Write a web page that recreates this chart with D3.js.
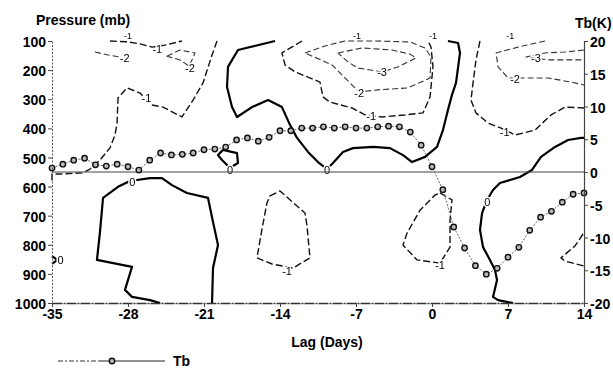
<!DOCTYPE html>
<html lang="en">
<head>
<meta charset="utf-8">
<title>Pressure vs lag with Tb</title>
<script src="https://d3js.org/d3.v7.min.js"></script>
<style>
  body { margin: 0; background: #fff; }
  svg { font-family: "Liberation Sans", Arial, sans-serif; }
  .axis text { font-size: 14px; font-weight: bold; fill: #000; }
  .title { font-size: 14px; font-weight: bold; }
  .clabel { font-size: 11px; fill: #000; }
  .halo { font-size: 11px; fill: #fff; stroke: #fff; stroke-width: 3px; }
  .mono { filter: grayscale(100%); }
</style>
</head>
<body>
<script>
// ---- data ----
const lagTicks = [-35, -28, -21, -14, -7, 0, 7, 14]
const pressureTicks = [100, 200, 300, 400, 500, 600, 700, 800, 900, 1000]
const tbTicks = [-20, -15, -10, -5, 0, 5, 10, 15, 20]

// Tb (K) for each lag day
const tbLags = [-35, -34, -33, -32, -31, -30, -29, -28, -27, -26, -25, -24, -23, -22, -21, -20, -19, -18,
  -17, -16, -15, -14, -13, -12, -11, -10, -9, -8, -7, -6, -5, -4, -3, -2, -1, 0,
  1, 2, 3, 4, 5, 6, 7, 8, 9, 10, 11, 12, 13, 14]
const tbValues = [0.6, 1.2, 1.8, 2.1, 1.1, 0.9, 1.2, 0.8, 0.3, 1.8, 2.9, 2.6, 2.7, 2.9, 3.4, 3.5, 3.8, 4.9,
  5.2, 4.7, 5.3, 6.3, 6.3, 6.7, 6.7, 6.9, 6.7, 6.9, 6.7, 6.7, 6.9, 7.0, 6.9, 6.1, 4.1, 0.8,
  -2.7, -8.4, -11.6, -14.3, -15.6, -14.7, -13.0, -11.5, -8.9, -6.9, -6.0, -4.6, -3.4, -3.2]

// contour lines as [lag, pressure] pairs
const c0Mid = [[-14.46,100],[-17.87,131],[-18.79,189],[-18.88,258],[-18.42,327],[-17.96,361],[-16.58,327],
  [-15.10,303],[-13.82,327],[-13.08,388],[-12.43,433],[-11.42,481],[-10.50,516],[-9.67,540],[-9.12,519],
  [-8.20,481],[-7.28,468],[-5.43,464],[-3.87,468],[-2.67,492],[-1.84,516],[-0.64,498],[0.46,464],[1.01,406],
  [1.47,337],[1.84,285],[2.21,244],[2.58,141],[2.40,107],[1.47,100]]
const c0Loop = [[-19.71,492],[-19.25,474],[-17.96,485],[-17.87,519],[-18.61,536],[-19.34,509]]
const c0Low = [[-25.05,1000],[-25.97,990],[-27.63,979],[-28.28,955],[-27.63,876],[-30.86,852],[-30.58,756],
  [-30.30,639],[-28.92,601],[-27.82,581],[-25.97,571],[-24.87,571],[-23.95,595],[-22.57,622],[-20.63,639],
  [-20.17,722],[-19.71,801],[-20.17,880],[-20.26,1000]]
const c0Right = [[14,433],[13.72,433],[12.53,440],[11.33,464],[10.04,498],[9.21,543],[8.10,567],[6.26,588],
  [5.62,612],[5.07,646],[4.61,691],[4.42,749],[4.70,808],[5.34,852],[5.80,887],[5.99,921],[5.62,979],
  [6.08,990],[7.0,997],[7.46,1000]]
const c0Edge = [[-35,839],[-34.5,852],[-35,866]]

const m1Left = [[-19.80,100],[-20.26,148],[-21.09,244],[-22.01,303],[-23.03,361],[-24.78,327],[-25.79,320],
  [-26.25,303],[-26.89,279],[-28.09,261],[-28.92,296],[-29.01,382],[-29.20,423],[-29.66,467],[-30.58,509],
  [-31.50,540],[-32.14,553],[-34.26,557],[-35,557],[-35,588]]
const m1TopLeft = [[-29.66,100],[-28.0,103],[-26.89,110],[-25.79,121],[-24.59,114],[-23.03,100]]
const m2TopLeft = [[-31.04,138],[-29.84,148],[-28.74,155]]
const m2LoopLeft = [[-24.41,152],[-23.21,131],[-21.83,141],[-22.11,165],[-22.38,186],[-23.21,165]]
const m1Mid = [[-11.97,100],[-13.82,141],[-13.54,182],[-12.62,206],[-10.32,241],[-10.04,292],[-9.39,310],
  [-7.37,330],[-6.17,354],[-4.60,361],[-2.49,354],[-0.83,347],[-0.18,292],[0.09,189],[-0.09,121],[-0.37,100]]
const m2Mid = [[-11.70,141],[-9.85,117],[-8.01,100],[-5.25,100],[-2.03,103],[-0.64,124],[-0.09,155],
  [-0.18,227],[-2.21,261],[-4.97,268],[-6.72,275],[-8.01,227],[-9.21,182]]
const m3Mid = [[-8.66,141],[-6.45,124],[-3.68,131],[-2.03,145],[-1.47,158],[-3.13,189],[-4.60,206],
  [-6.82,193],[-7.74,172]]
const m1Right = [[4.42,100],[4.05,165],[3.78,244],[3.59,303],[4.05,347],[5.16,382],[6.36,399],[7.65,423],
  [9.49,406],[10.96,354],[12.25,327],[14.0,330]]
const m2Right = [[10.41,100],[7.92,121],[5.90,141],[6.08,189],[7.0,227],[8.84,227],[10.69,227],[12.80,241],[14.0,251]]
const m3Right = [[14,131],[12.25,138],[10.41,141],[8.66,155],[10.69,165],[12.80,165],[14,165]]
const m1LoopA = [[-14.92,632],[-14.0,615],[-11.70,691],[-11.51,735],[-11.24,845],[-12.80,880],[-14.74,866],
  [-16.12,845],[-15.66,746],[-15.20,656]]
const m1LoopB = [[0.74,622],[1.84,646],[1.66,715],[1.66,808],[0.74,863],[-1.38,852],[-2.67,801],[-2.30,760],
  [-1.10,681],[0.28,629]]
const m1EdgeR = [[13.91,763],[13.17,804],[11.88,845],[12.25,856],[14,873]]

// contour labels: [text, lag, pressure]
const contourLabels = [
  ["0", -9.67, 545], ["0", -18.6, 542], ["0", -27.6, 585], ["0", 5.1, 652], ["0", -34.2, 852],
  ["-1", -26.3, 298], ["-1", -25.3, 127], ["-1", -5.6, 358], ["-1", 6.7, 413], ["-1", -13.35, 892], ["-1", 0.74, 870],
  ["-2", -28.3, 160], ["-2", -22.3, 193], ["-2", -6.7, 279], ["-2", 7.65, 231],
  ["-3", -4.6, 206], ["-3", 9.58, 158]
]
const topLabels = [-28, -6.9, 0.1, 7.2]

// ---- chart ----
const w = 613, h = 372
const plotLeft = 52, plotRight = 584, plotTop = 41, plotBottom = 303

const svg = d3.select("body").append("svg").attr("width", w).attr("height", h)

const x = d3.scaleLinear().domain([-35, 14]).range([plotLeft, plotRight])
const yP = d3.scaleLinear().domain([100, 1000]).range([plotTop, plotBottom])
const yT = d3.scaleLinear().domain([-20, 20]).range([plotBottom, plotTop])

const contours = [
  {level: 0, pts: c0Mid}, {level: 0, pts: c0Loop, closed: true}, {level: 0, pts: c0Low},
  {level: 0, pts: c0Right}, {level: 0, pts: c0Edge},
  {level: -1, pts: m1Left}, {level: -1, pts: m1TopLeft}, {level: -2, pts: m2TopLeft},
  {level: -2, pts: m2LoopLeft, closed: true}, {level: -1, pts: m1Mid}, {level: -2, pts: m2Mid, closed: true},
  {level: -3, pts: m3Mid, closed: true}, {level: -1, pts: m1Right}, {level: -2, pts: m2Right},
  {level: -3, pts: m3Right}, {level: -1, pts: m1LoopA, closed: true}, {level: -1, pts: m1LoopB, closed: true},
  {level: -1, pts: m1EdgeR}
]

const line = d3.line().x(d => x(d[0])).y(d => yP(d[1]))
const lineClosed = d3.line().x(d => x(d[0])).y(d => yP(d[1])).curve(d3.curveLinearClosed)

svg.append("g").selectAll("path")
  .data(contours)
  .enter()
  .append("path")
  .attr("d", d => d.closed ? lineClosed(d.pts) : line(d.pts))
  .attr("fill", "none")
  .attr("stroke", d => d.level == 0 ? "#000" : d.level == -1 ? "#111" : "#333")
  .attr("stroke-width", d => d.level == 0 ? 2.2 : d.level == -1 ? 1.4 : 1.1)
  .attr("stroke-dasharray", d => d.level == 0 ? null : d.level == -1 ? "7,3" : "6,3")
  .attr("stroke-linejoin", "round")

// white knock-out under each label, then the label itself
const labelG = svg.append("g").attr("class", "mono")
labelG.selectAll("text.halo")
  .data(contourLabels)
  .enter()
  .append("text")
  .attr("class", "halo")
  .attr("x", d => x(d[1]))
  .attr("y", d => yP(d[2]))
  .attr("dy", "0.35em")
  .attr("text-anchor", "middle")
  .text(d => d[0])
labelG.selectAll("text.clabel")
  .data(contourLabels)
  .enter()
  .append("text")
  .attr("class", "clabel")
  .attr("x", d => x(d[1]))
  .attr("y", d => yP(d[2]))
  .attr("dy", "0.35em")
  .attr("text-anchor", "middle")
  .text(d => d[0])

svg.append("g").attr("class", "mono").selectAll("text")
  .data(topLabels)
  .enter()
  .append("text")
  .attr("x", d => x(d))
  .attr("y", plotTop - 2)
  .attr("text-anchor", "middle")
  .attr("font-size", 9)
  .attr("fill", "#000")
  .text("-1")

// Tb zero line
svg.append("line")
  .attr("x1", plotLeft).attr("x2", plotRight)
  .attr("y1", yT(0)).attr("y2", yT(0))
  .attr("stroke", "#444").attr("stroke-width", 1.2)

// Tb curve
const tbData = tbLags.map((l, i) => [l, tbValues[i]])
const tbLine = d3.line().x(d => x(d[0])).y(d => yT(d[1]))

svg.append("path")
  .datum(tbData)
  .attr("d", tbLine)
  .attr("fill", "none")
  .attr("stroke", "#555")
  .attr("stroke-width", 0.9)
  .attr("stroke-dasharray", "2,1.5")

svg.append("g").selectAll("circle")
  .data(tbData)
  .enter()
  .append("circle")
  .attr("cx", d => x(d[0]))
  .attr("cy", d => yT(d[1]))
  .attr("r", 2.7)
  .attr("fill", "#bbb")
  .attr("stroke", "#111")
  .attr("stroke-width", 1.4)

// axes
const yAxis = d3.axisLeft(yP).tickValues(pressureTicks).tickSize(4).tickSizeOuter(0).tickPadding(2)
  .tickFormat(d => String(d))
const xAxis = d3.axisBottom(x).tickValues(lagTicks).tickSize(4).tickSizeOuter(0).tickPadding(2)
  .tickFormat(d => String(d))
const tAxis = d3.axisRight(yT).tickValues(tbTicks).tickSize(4).tickSizeOuter(0).tickPadding(2)
  .tickFormat(d => String(d))

const gy = svg.append("g").attr("class", "axis").attr("transform", "translate(" + plotLeft + ",0)").call(yAxis)
const gx = svg.append("g").attr("class", "axis").attr("transform", "translate(0," + plotBottom + ")").call(xAxis)
const gt = svg.append("g").attr("class", "axis").attr("transform", "translate(" + plotRight + ",0)").call(tAxis)

gy.select(".domain").attr("stroke", "#555").attr("stroke-dasharray", "2,1.5")
gx.select(".domain").attr("stroke", "#333").attr("stroke-width", 1.4).attr("stroke-dasharray", "10,1,2,1")
gt.select(".domain").attr("stroke", "#444").attr("stroke-width", 1.2)
svg.selectAll(".axis .tick line").attr("stroke", "#444")
gy.selectAll("text").attr("dy", "0.4em")
gt.selectAll("text").attr("dy", "0.4em")

// titles
svg.append("text").attr("class", "title").attr("x", 36).attr("y", 25).text("Pressure (mb)")
svg.append("text").attr("class", "title").attr("x", 575).attr("y", 28).text("Tb(K)")
svg.append("text").attr("class", "title").attr("x", 327).attr("y", 347).attr("text-anchor", "middle").text("Lag (Days)")

// legend
const legY = 361
svg.append("line").attr("x1", 58).attr("x2", 100).attr("y1", legY).attr("y2", legY)
  .attr("stroke", "#333").attr("stroke-width", 1).attr("stroke-dasharray", "5,2,2,2")
svg.append("line").attr("x1", 100).attr("x2", 165).attr("y1", legY).attr("y2", legY)
  .attr("stroke", "#222").attr("stroke-width", 1.2)
svg.append("circle").attr("cx", 112).attr("cy", legY).attr("r", 2.7)
  .attr("fill", "#bbb").attr("stroke", "#111").attr("stroke-width", 1.4)
svg.append("text").attr("class", "title").attr("x", 173).attr("y", legY + 5).text("Tb")
</script>
</body>
</html>
